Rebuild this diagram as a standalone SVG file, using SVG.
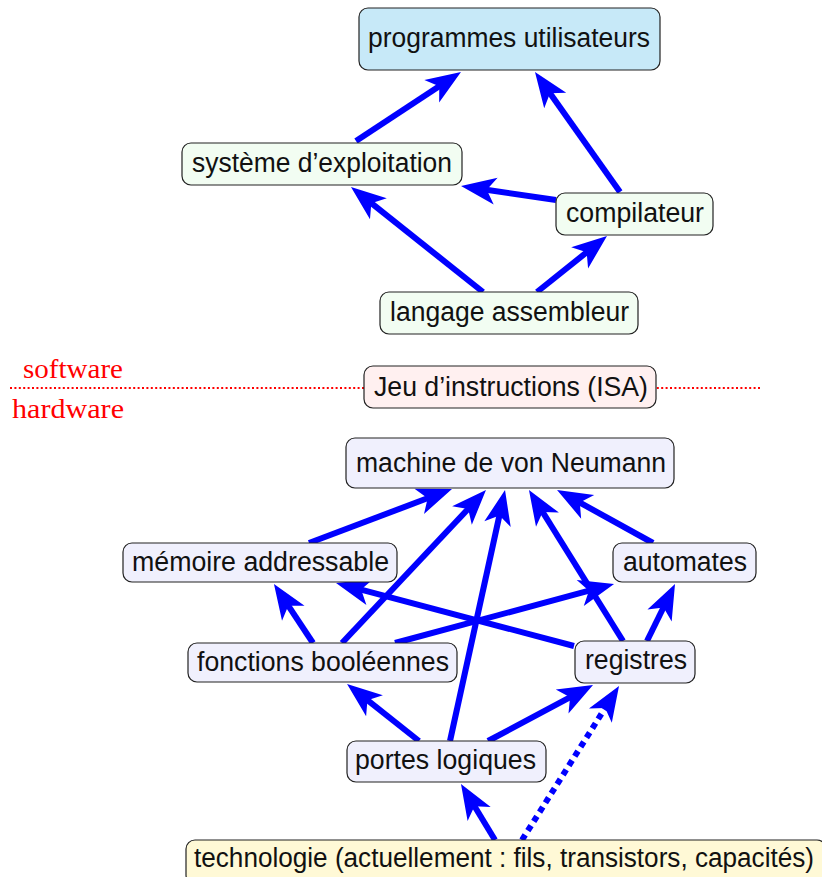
<svg xmlns="http://www.w3.org/2000/svg" width="822" height="877" viewBox="0 0 822 877">
<style>
.box{stroke:#222;stroke-width:1.2}
.lbl{font-family:"Liberation Sans",Arial,sans-serif;font-size:27px;fill:#111}
.sw{font-family:"Liberation Serif","Times New Roman",serif;font-size:27px;fill:#ff0000}
.arr{stroke:#0000ff;stroke-width:6;fill:none;marker-end:url(#ah)}
.dot{stroke:#0000ff;stroke-width:6;fill:none;stroke-dasharray:6 5;marker-end:url(#ah)}
.soft{fill:#f2fdf2}
.hard{fill:#f0f0fd}
</style>
<defs>
<marker id="ah" markerUnits="userSpaceOnUse" viewBox="-15 -15 40 30" refX="0" refY="0" markerWidth="40" markerHeight="30" orient="auto" overflow="visible">
<path d="M22,0 L-13,-13.5 L-4,0 L-13,13.5 Z" fill="#0000ff"/>
</marker>
</defs>
<g id="separator">
<line x1="10" y1="388" x2="760" y2="388" stroke="#ff0000" stroke-width="2" stroke-dasharray="2 2.4"/>
<text class="sw" x="123" y="378" text-anchor="end" textLength="100" lengthAdjust="spacingAndGlyphs">software</text>
<text class="sw" x="124" y="418" text-anchor="end" textLength="112" lengthAdjust="spacingAndGlyphs">hardware</text>
</g>
<g id="connectors">
<line class="arr" x1="356" y1="141" x2="442.6" y2="84.1"/>
<line class="arr" x1="620" y1="192" x2="547.7" y2="89.9"/>
<line class="arr" x1="556" y1="200" x2="482.8" y2="189.2"/>
<line class="arr" x1="483" y1="292" x2="368.2" y2="200.7"/>
<line class="arr" x1="537" y1="292" x2="589.8" y2="249.8"/>
<line class="arr" x1="309" y1="543" x2="431.4" y2="496.8"/>
<line class="arr" x1="342" y1="643" x2="470.9" y2="506.0"/>
<line class="arr" x1="450" y1="741" x2="500.3" y2="511.5"/>
<line class="arr" x1="623" y1="641" x2="540.6" y2="508.7"/>
<line class="arr" x1="653" y1="543" x2="576.3" y2="500.6"/>
<line class="arr" x1="574" y1="646" x2="357.3" y2="588.6"/>
<line class="arr" x1="395" y1="643" x2="592.8" y2="589.7"/>
<line class="arr" x1="647" y1="641" x2="665.3" y2="603.8"/>
<line class="arr" x1="313" y1="643" x2="286.1" y2="602.4"/>
<line class="arr" x1="419" y1="741" x2="364.3" y2="697.7"/>
<line class="arr" x1="488" y1="741" x2="573.6" y2="695.4"/>
<line class="arr" x1="495" y1="840" x2="472.4" y2="802.8"/>
<line class="dot" x1="522" y1="840" x2="607.3" y2="704.6"/>
</g>
<g id="programmes">
<rect class="box" x="359" y="8" width="301" height="62" rx="9" fill="#c7e9f8"/>
<text class="lbl" x="368" y="47" textLength="282" lengthAdjust="spacingAndGlyphs">programmes utilisateurs</text>
</g>
<g id="systeme">
<rect class="box soft" x="182" y="143" width="280" height="42" rx="9"/>
<text class="lbl" x="192" y="172" textLength="260" lengthAdjust="spacingAndGlyphs">système d’exploitation</text>
</g>
<g id="compilateur">
<rect class="box soft" x="556" y="193" width="157" height="42" rx="9"/>
<text class="lbl" x="566" y="222" textLength="138" lengthAdjust="spacingAndGlyphs">compilateur</text>
</g>
<g id="langage">
<rect class="box soft" x="380" y="292" width="258" height="42" rx="9"/>
<text class="lbl" x="390" y="321" textLength="239" lengthAdjust="spacingAndGlyphs">langage assembleur</text>
</g>
<g id="isa">
<rect class="box" x="364" y="366" width="292" height="42" rx="9" fill="#fff0f0"/>
<text class="lbl" x="374" y="396" textLength="274" lengthAdjust="spacingAndGlyphs">Jeu d’instructions (ISA)</text>
</g>
<g id="machine">
<rect class="box hard" x="346" y="438" width="328" height="50" rx="9"/>
<text class="lbl" x="356" y="472" textLength="310" lengthAdjust="spacingAndGlyphs">machine de von Neumann</text>
</g>
<g id="memoire">
<rect class="box hard" x="123" y="543" width="274" height="39" rx="9"/>
<text class="lbl" x="132" y="571" textLength="257" lengthAdjust="spacingAndGlyphs">mémoire addressable</text>
</g>
<g id="automates">
<rect class="box hard" x="613" y="543" width="143" height="39" rx="9"/>
<text class="lbl" x="623" y="571" textLength="124" lengthAdjust="spacingAndGlyphs">automates</text>
</g>
<g id="fonctions">
<rect class="box hard" x="188" y="643" width="269" height="39" rx="9"/>
<text class="lbl" x="197" y="671" textLength="252" lengthAdjust="spacingAndGlyphs">fonctions booléennes</text>
</g>
<g id="registres">
<rect class="box hard" x="575" y="641" width="120" height="42" rx="9"/>
<text class="lbl" x="585" y="669" textLength="102" lengthAdjust="spacingAndGlyphs">registres</text>
</g>
<g id="portes">
<rect class="box hard" x="347" y="741" width="199" height="41" rx="9"/>
<text class="lbl" x="355" y="769" textLength="181" lengthAdjust="spacingAndGlyphs">portes logiques</text>
</g>
<g id="technologie">
<rect class="box" x="186" y="840" width="640" height="44" rx="9" fill="#fff9d6"/>
<text class="lbl" x="194" y="867" textLength="620" lengthAdjust="spacingAndGlyphs">technologie (actuellement : fils, transistors, capacités)</text>
</g>
</svg>
